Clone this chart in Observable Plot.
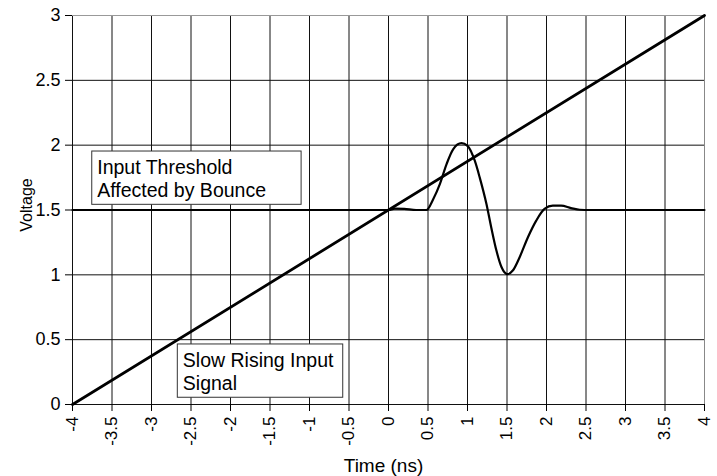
<!DOCTYPE html>
<html><head><meta charset="utf-8">
<script src="https://cdn.jsdelivr.net/npm/d3@7"></script>
<script src="https://cdn.jsdelivr.net/npm/@observablehq/plot@0.6"></script>
<style>
html,body{margin:0;padding:0;background:#fff;}
#chart svg{display:block;}
</style>
</head><body><div id="chart"></div>
<script>
// ---- Data ----
const xTicks = [-4, -3.5, -3, -2.5, -2, -1.5, -1, -0.5, 0, 0.5, 1, 1.5, 2, 2.5, 3, 3.5, 4];
const yTicks = [0, 0.5, 1, 1.5, 2, 2.5, 3];
const xLabel = "Time (ns)";
const yLabel = "Voltage";

// Slow rising input signal (straight ramp)
const inputTime = [-4, 4];
const inputVolt = [0, 3];

// Input threshold affected by bounce
const thresholdTime = [-4, 0, 0.08, 0.2, 0.35, 0.48, 0.567, 0.65, 0.735, 0.82, 0.924, 1.0, 1.092, 1.155, 1.24, 1.30, 1.366, 1.43, 1.504, 1.576, 1.66, 1.765, 1.87, 1.975, 2.08, 2.185, 2.31, 2.42, 2.55, 4];
const thresholdVolt = [1.5, 1.5, 1.51, 1.508, 1.5, 1.5, 1.585, 1.70, 1.854, 1.97, 2.015, 1.995, 1.88, 1.75, 1.546, 1.367, 1.187, 1.06, 1.005, 1.035, 1.136, 1.29, 1.418, 1.508, 1.533, 1.533, 1.515, 1.502, 1.5, 1.5];

// Annotation boxes
const noteText = ["Input Threshold\nAffected by Bounce", "Slow Rising Input\nSignal"];
const noteX1 = [-3.75, -2.667];
const noteX2 = [-1.10, -0.573];
const noteY1 = [1.540, 0.052];
const noteY2 = [1.951, 0.463];

// ---- Build tables ----
const inputData = inputTime.map((t, i) => ({t, v: inputVolt[i]}));
const thresholdData = thresholdTime.map((t, i) => ({t, v: thresholdVolt[i]}));
const notes = noteText.map((text, i) => ({text, x1: noteX1[i], x2: noteX2[i], y1: noteY1[i], y2: noteY2[i]}));

const xMax = d3.max(xTicks), yMax = d3.max(yTicks);
const font = "'Liberation Sans', Arial, Helvetica, sans-serif";

const chart = Plot.plot({
  width: 717,
  height: 476,
  marginLeft: 72,
  marginRight: 13,
  marginTop: 15,
  marginBottom: 72,
  style: {fontFamily: font, fontSize: "18px", color: "#000", background: "#fff"},
  x: {domain: [d3.min(xTicks), xMax]},
  y: {domain: [d3.min(yTicks), yMax]},
  marks: [
    // grid
    Plot.ruleX(xTicks.filter(d => d !== xMax), {stroke: "#111", strokeWidth: 1}),
    Plot.ruleX(xTicks.filter(d => d === xMax), {stroke: "#888", strokeWidth: 1}),
    Plot.ruleY(yTicks.filter(d => d !== yMax), {stroke: "#111", strokeWidth: 1}),
    Plot.ruleY(yTicks.filter(d => d === yMax), {stroke: "#999", strokeWidth: 1}),
    // axes
    Plot.axisX({
      ticks: xTicks, tickSize: 7, tickPadding: 5, tickRotate: -90,
      tickFormat: d => String(d), fontSize: 17, label: null
    }),
    Plot.axisY({
      ticks: yTicks, tickSize: 7, tickPadding: 5,
      tickFormat: d => String(d), fontSize: 18, label: null
    }),
    // axis titles
    Plot.text([xLabel], {text: d => d, frameAnchor: "bottom", textAnchor: "middle", lineAnchor: "middle", dy: 61, dx: -5, fontSize: "19px", fill: "#000"}),
    Plot.text([yLabel], {text: d => d, frameAnchor: "left", textAnchor: "middle", rotate: -90, lineAnchor: "middle", dx: -46, dy: -5, fontSize: "16px", fill: "#000"}),
    // series
    Plot.line(inputData, {x: "t", y: "v", stroke: "#000", strokeWidth: 2.8}),
    Plot.line(thresholdData, {x: "t", y: "v", stroke: "#000", strokeWidth: 2.2, curve: "monotone-x"}),
    // annotations
    Plot.rect(notes, {x1: "x1", x2: "x2", y1: "y1", y2: "y2", fill: "#fff", stroke: "#333", strokeWidth: 1}),
    Plot.text(notes, {x: "x1", y: "y2", text: "text", textAnchor: "start", lineAnchor: "top",
      dx: 5, dy: 7, fontSize: 19.5, lineHeight: 1.15, fill: "#000"})
  ]
});
document.getElementById("chart").appendChild(chart);
</script>
</body></html>
